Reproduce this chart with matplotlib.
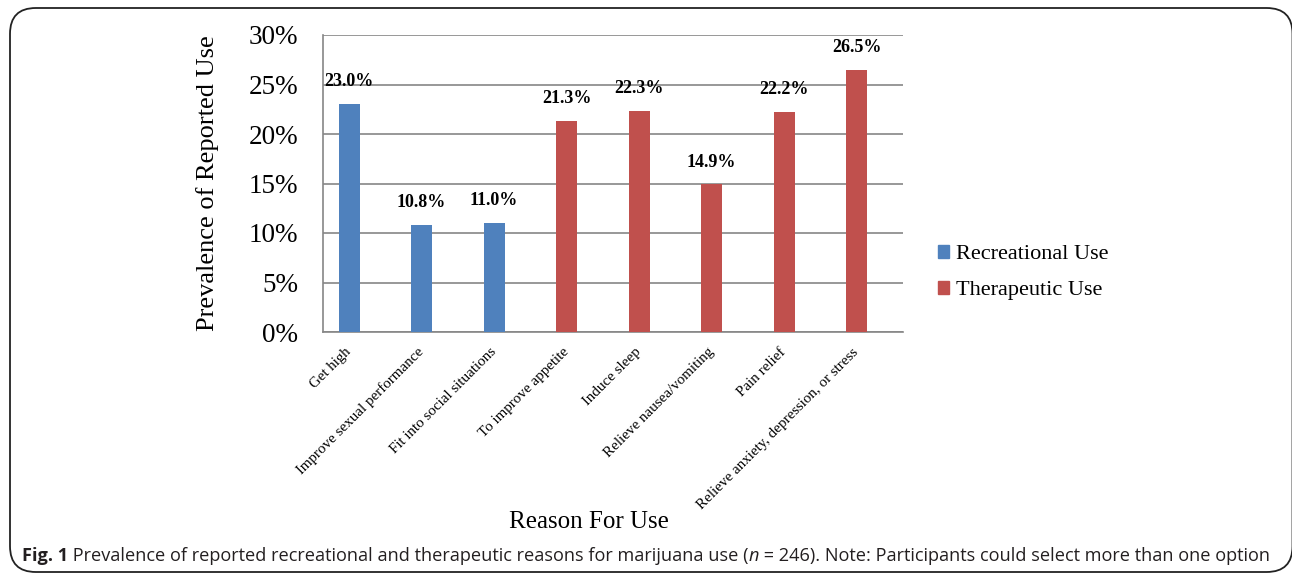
import matplotlib.pyplot as plt
from matplotlib.patches import FancyBboxPatch, Patch

# data
reasons = ['Get high', 'Improve sexual performance', 'Fit into social situations',
           'To improve appetite', 'Induce sleep', 'Relieve nausea/vomiting',
           'Pain relief', 'Relieve anxiety, depression, or stress']
prevalence = [23.0, 10.8, 11.0, 21.3, 22.3, 14.9, 22.2, 26.5]
use_type = ['Recreational Use'] * 3 + ['Therapeutic Use'] * 5

colors = {'Recreational Use': '#4F81BD', 'Therapeutic Use': '#C0504D'}
SERIF = 'Liberation Serif'

fig = plt.figure(figsize=(12.92, 5.76), dpi=100)
W, H = 1292, 576

# rounded border around the figure (right side runs off the edge)
border = FancyBboxPatch((10 / W, 4 / H), 1282.5 / W, 564 / H,
                        boxstyle='round,pad=0,rounding_size=0.02',
                        transform=fig.transFigure, fill=False,
                        edgecolor='#222222', linewidth=1.3, mutation_aspect=W / H)
fig.patches.append(border)

ax = fig.add_axes([323 / W, 1 - 332 / H, 580 / W, 297 / H])

x = range(len(reasons))
xs = [i - 0.14 for i in x]
bars = ax.bar(xs, prevalence, width=0.29,
              color=[colors[t] for t in use_type], zorder=3)

for xi, v in zip(xs, prevalence):
    ax.annotate('%.1f%%' % v, (xi, v), xytext=(0, 10), textcoords='offset points',
                ha='center', va='bottom', fontsize=13, fontweight='bold',
                family=SERIF)

ax.set_xlim(-0.5, 7.5)
ax.set_ylim(0, 30)
ax.set_yticks(range(0, 31, 5))
ax.set_yticklabels(['%d%%' % t for t in range(0, 31, 5)], fontsize=19.5, family=SERIF)
ax.set_xticks(xs)
ax.set_xticklabels(reasons, rotation=45, ha='right', va='center',
                   rotation_mode='anchor', fontsize=10.8, family=SERIF)
ax.tick_params(axis='x', length=0, pad=13)
ax.tick_params(axis='y', length=0, pad=18)
ax.grid(axis='y', color='#868686', linewidth=1.2, zorder=0)
for s in ['top', 'right']:
    ax.spines[s].set_visible(False)
for s in ['left', 'bottom']:
    ax.spines[s].set_color('#868686')
    ax.spines[s].set_linewidth(1.2)

fig.text(208 / W, 1 - 183.5 / H, 'Prevalence of Reported Use', rotation=90,
         ha='center', va='center', fontsize=19, family=SERIF)
fig.text(589 / W, 1 - 522 / H, 'Reason For Use', ha='center', va='center',
         fontsize=18, family=SERIF)

handles = [Patch(color=colors[k]) for k in colors]
ax.legend(handles, list(colors), loc='center left', bbox_to_anchor=(1.06, 0.2),
          frameon=False, handlelength=0.5, handleheight=0.5,
          handletextpad=0.3, labelspacing=0.75, borderpad=0, borderaxespad=0,
          prop={'family': SERIF, 'size': 16})

# caption, drawn piece by piece
fig.canvas.draw()
r = fig.canvas.get_renderer()
pieces = [('Fig. 1', 'bold', 'normal'),
          (' Prevalence of reported recreational and therapeutic reasons for marijuana use (', 'normal', 'normal'),
          ('n', 'normal', 'italic'),
          (' = 246). Note: Participants could select more than one option', 'normal', 'normal')]
xpos = 22
for txt, wt, st in pieces:
    t = fig.text(xpos / W, 1 - 556 / H, txt, ha='left', va='center', fontsize=13.1,
                 family='Open Sans', fontweight=wt, fontstyle=st, color='#231F20')
    xpos = t.get_window_extent(r).x1

fig.savefig('out.png', dpi=100)
